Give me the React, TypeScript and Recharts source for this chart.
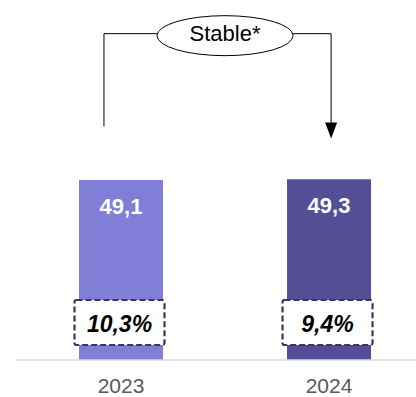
import React from 'react';
import { BarChart, Bar, XAxis, YAxis, Cell, LabelList, ReferenceLine, ReferenceDot } from 'recharts';

const years = ['2023', '2024'];
const values = [49.1, 49.3];
const shares = ['10,3%', '9,4%'];
const colors = ['#807ed6', '#534e96'];
const stableText = 'Stable*';

// annotation anchors (data space)
const CONNECT_LEVEL = 89;
const START_LEVEL = 63.7;
const ARROW_LEVEL = 60.4;
const START_X = -0.082;
const END_X = 1.01;

const data = years.map((y, i) => ({ x: i, year: y, value: values[i], share: shares[i] }));

const FONT = '"Liberation Sans", Arial, Helvetica, sans-serif';

const ValueLabel = (props: any) => {
  const { x, y, width, value } = props;
  const cx = Number(x) + Number(width) / 2;
  return (
    <text x={cx} y={Number(y) + 34} textAnchor="middle" fill="#ffffff" fontFamily={FONT} fontWeight="bold" fontSize={22}>
      {Number(value).toFixed(1).replace('.', ',')}
    </text>
  );
};

const ShareLabel = (props: any) => {
  const { x, y, width, height, value } = props;
  const cx = Number(x) + Number(width) / 2 - 1.5;
  const bottom = Number(y) + Number(height);
  return (
    <g>
      <rect x={cx - 45} y={bottom - 60} width={90} height={45} fill="#ffffff" stroke="#3a3566" strokeWidth={2.2} strokeDasharray="6 3" rx={2} />
      <text x={cx} y={bottom - 28.5} textAnchor="middle" fill="#000000" fontFamily={FONT} fontWeight="bold" fontStyle="italic" fontSize={23}>
        {value}
      </text>
    </g>
  );
};

const EllipseShape = (props: any) => {
  const { cx, cy } = props;
  return (
    <g>
      <ellipse cx={cx} cy={cy + 2} rx={68} ry={20} fill="#ffffff" stroke="#000000" strokeWidth={1} />
      <text x={cx} y={cy + 7} textAnchor="middle" fill="#000000" fontFamily={FONT} fontSize={22}>
        {stableText}
      </text>
    </g>
  );
};

const ArrowShape = (props: any) => {
  const { x1, y1, x2, y2 } = props;
  const x = Number(x1);
  const top = Math.min(Number(y1), Number(y2));
  const tip = Math.max(Number(y1), Number(y2));
  return (
    <g>
      <line x1={x} y1={top} x2={x} y2={tip - 14} stroke="#000000" strokeWidth={1} />
      <polygon points={`${x - 6},${tip - 16} ${x + 6},${tip - 16} ${x},${tip}`} fill="#000000" />
    </g>
  );
};

export default function App() {
  return (
    <div style={{ position: 'absolute', left: 0, top: 0, width: 416, height: 397, background: '#ffffff' }}>
      <BarChart width={416} height={397} data={data} margin={{ top: 140, right: 0, bottom: 7, left: 17 }}>
        <XAxis
          dataKey="x"
          type="number"
          height={30}
          domain={[-0.5, 1.418]}
          allowDataOverflow
          ticks={[0, 1]}
          tickFormatter={(v: number) => years[v] ?? ''}
          axisLine={{ stroke: '#d9d9d9', strokeWidth: 1.5 }}
          tickLine={false}
          tickSize={0}
          tickMargin={18}
          tick={{ fill: '#595959', fontSize: 21, fontFamily: FONT }}
        />
        <YAxis hide domain={[0, 60]} />
        <Bar dataKey="value" barSize={84} isAnimationActive={false}>
          {data.map((d, i) => (
            <Cell key={d.year} fill={colors[i]} />
          ))}
          <LabelList dataKey="value" content={ValueLabel} />
          <LabelList dataKey="share" content={ShareLabel} />
        </Bar>
        <ReferenceLine segment={[{ x: START_X, y: START_LEVEL }, { x: START_X, y: CONNECT_LEVEL }]} stroke="#000000" strokeWidth={1} ifOverflow="visible" />
        <ReferenceLine segment={[{ x: START_X, y: CONNECT_LEVEL }, { x: END_X, y: CONNECT_LEVEL }]} stroke="#000000" strokeWidth={1} ifOverflow="visible" />
        <ReferenceLine segment={[{ x: END_X, y: CONNECT_LEVEL }, { x: END_X, y: ARROW_LEVEL }]} stroke="#000000" strokeWidth={1} ifOverflow="visible" shape={ArrowShape} />
        <ReferenceDot x={0.5} y={CONNECT_LEVEL} ifOverflow="visible" shape={EllipseShape} />
      </BarChart>
    </div>
  );
}
